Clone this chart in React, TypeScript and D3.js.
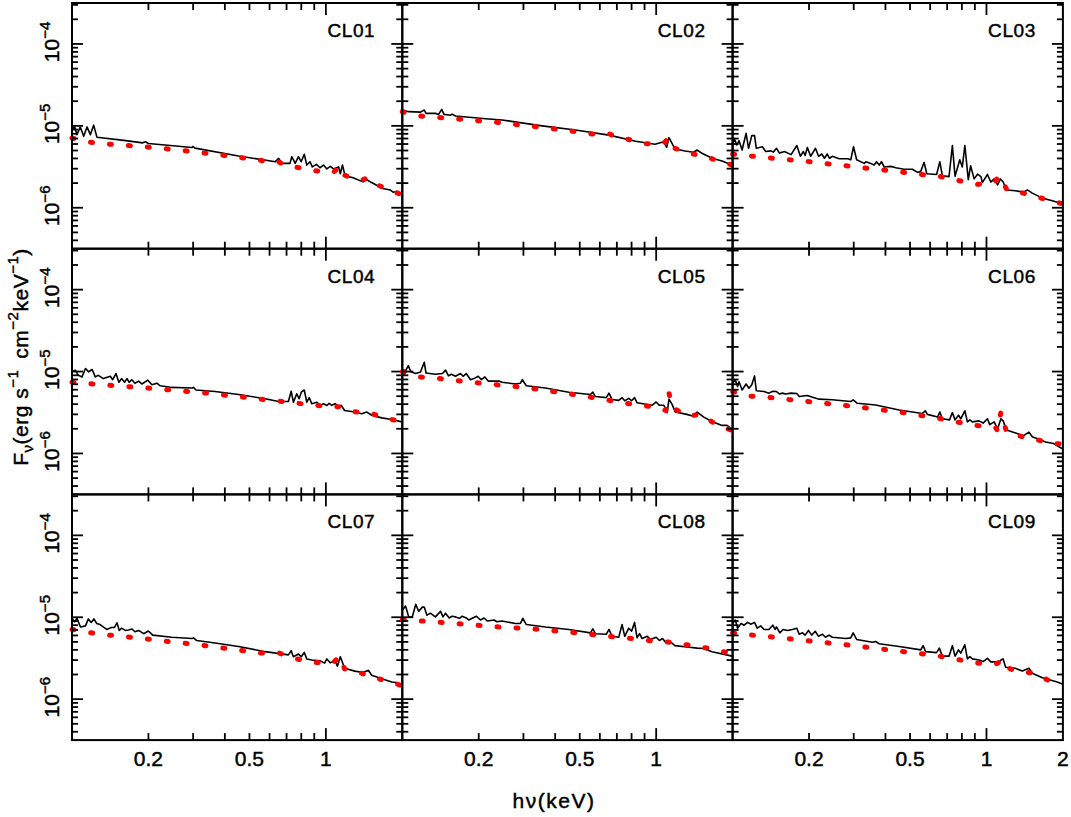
import React, { useEffect, useRef } from 'react';
import * as d3 from 'd3';

// panel names, read top-left to bottom-right
const panelNames = ['CL01', 'CL02', 'CL03', 'CL04', 'CL05', 'CL06', 'CL07', 'CL08', 'CL09'];

// [energy keV, flux in 1e-6 erg s^-1 cm^-2 keV^-1]
const cl01Data: [number, number][] = [
  [0.100, 9.35], [0.1025, 9.7], [0.1046, 7.8], [0.1078, 9.7], [0.1112, 7.45], [0.1146, 9.7], [0.1181, 7.8],
  [0.1217, 10.2], [0.1254, 7.25], [0.160, 6.65], [0.19, 6.2], [0.1945, 6.4], [0.2, 6.1], [0.297, 5.45],
  [0.30, 5.6], [0.305, 5.35], [0.453, 4.28], [0.632, 3.65], [0.652, 4.0], [0.670, 3.48], [0.722, 3.48],
  [0.734, 4.2], [0.757, 3.48], [0.780, 4.2], [0.799, 3.65], [0.822, 4.5], [0.841, 3.32], [0.866, 3.65],
  [0.884, 3.15], [0.918, 3.38], [0.948, 3.08], [0.979, 3.32], [1.009, 2.98], [1.040, 3.2], [1.072, 2.98],
  [1.123, 3.15], [1.14, 2.6], [1.163, 3.32], [1.19, 2.45], [1.28, 2.32], [1.40, 2.07], [1.45, 2.2],
  [1.515, 2.03], [1.59, 1.87], [1.66, 1.73], [1.79, 1.65], [1.84, 1.55], [1.90, 1.58], [1.99, 1.44],
];
const cl01Model: [number, number][] = [
  [0.100, 7.1], [0.118, 6.3], [0.137, 6.0], [0.1945, 5.55], [0.275, 5.0], [0.389, 4.4], [0.548, 3.82],
  [0.62, 3.52], [0.65, 3.65], [0.68, 3.38], [0.88, 2.85], [1.04, 2.72], [1.07, 2.7], [1.14, 3.25],
  [1.18, 2.52], [1.264, 2.28], [1.40, 2.2], [1.45, 2.3], [1.515, 2.03], [1.99, 1.44],
];

const cl02Data: [number, number][] = [
  [0.100, 15.6], [0.106, 14.9], [0.118, 14.7], [0.122, 15.6], [0.124, 14.2], [0.135, 14.2], [0.139, 13.8],
  [0.143, 15.9], [0.146, 13.8], [0.155, 13.5], [0.157, 13.9], [0.162, 13.2], [0.213, 12.2], [0.247, 11.8],
  [0.3555, 10.0], [0.481, 8.9], [0.652, 7.7], [0.83, 6.5], [0.99, 5.95], [1.07, 6.4], [1.10, 5.45],
  [1.123, 7.17], [1.163, 5.84], [1.19, 5.21], [1.30, 4.93], [1.40, 4.75], [1.45, 5.07], [1.515, 4.62],
  [1.66, 4.02], [1.816, 3.72], [1.99, 3.33],
];
const cl02Model: [number, number][] = [
  [0.100, 14.9], [0.118, 13.2], [0.1665, 12.1], [0.235, 11.05], [0.332, 9.8], [0.469, 8.6], [0.559, 7.95],
  [0.62, 7.7], [0.655, 7.95], [0.69, 7.4], [0.768, 6.9], [0.906, 6.05], [1.07, 6.1], [1.123, 7.17],
  [1.17, 5.4], [1.35, 4.62], [1.54, 4.3], [1.79, 3.65], [1.99, 3.33],
];

const cl03Data: [number, number][] = [
  [0.100, 5.84], [0.1015, 7.0], [0.104, 5.84], [0.106, 6.6], [0.109, 5.07], [0.113, 8.1], [0.1156, 5.32],
  [0.119, 7.6], [0.122, 7.6], [0.124, 5.32], [0.131, 5.55], [0.135, 4.87], [0.1415, 4.95], [0.1446, 4.78],
  [0.149, 5.32], [0.153, 4.65], [0.160, 4.87], [0.170, 4.45], [0.179, 5.75], [0.185, 4.25], [0.190, 4.87],
  [0.193, 4.35], [0.197, 5.45], [0.203, 4.25], [0.212, 5.32], [0.218, 4.25], [0.2245, 4.53], [0.230, 4.02],
  [0.236, 4.53], [0.241, 4.02], [0.247, 4.25], [0.263, 3.97], [0.284, 3.97], [0.292, 3.85], [0.2995, 5.55],
  [0.308, 3.85], [0.330, 3.48], [0.335, 3.65], [0.350, 3.48], [0.361, 3.32], [0.369, 3.65], [0.378, 3.32],
  [0.386, 3.65], [0.395, 3.15], [0.420, 3.2], [0.440, 3.08], [0.473, 2.95], [0.511, 2.95], [0.535, 2.7],
  [0.551, 2.78], [0.568, 3.58], [0.582, 2.6], [0.636, 2.55], [0.655, 3.65], [0.670, 2.46], [0.712, 2.4],
  [0.734, 5.75], [0.752, 2.43], [0.768, 3.03], [0.785, 3.85], [0.803, 3.15], [0.822, 5.75], [0.848, 2.2],
  [0.866, 3.25], [0.894, 2.25], [0.922, 2.57], [0.951, 2.4], [0.963, 2.03], [1.009, 2.55], [1.04, 2.06],
  [1.072, 2.25], [1.106, 1.9], [1.134, 2.25], [1.163, 2.06], [1.2, 1.65], [1.30, 1.61], [1.40, 1.55],
  [1.45, 1.65], [1.515, 1.51], [1.66, 1.31], [1.816, 1.22], [1.99, 1.12],
];
const cl03Model: [number, number][] = [
  [0.100, 4.53], [0.12, 4.25], [0.2, 3.65], [0.40, 2.87], [0.568, 2.52], [0.66, 2.4], [0.78, 2.14],
  [0.922, 1.93], [1.072, 2.03], [1.123, 2.46], [1.15, 2.2], [1.2, 1.68], [1.40, 1.51], [1.60, 1.34],
  [1.87, 1.18], [1.99, 1.12],
];

const cl04Data: [number, number][] = [
  [0.100, 9.9], [0.103, 10.4], [0.106, 9.0], [0.1095, 8.6], [0.113, 10.9], [0.1163, 9.9], [0.120, 10.6],
  [0.1235, 8.6], [0.127, 9.0], [0.133, 8.2], [0.1415, 8.75], [0.1446, 7.95], [0.149, 9.45], [0.153, 7.4],
  [0.157, 8.2], [0.161, 7.4], [0.1646, 8.2], [0.168, 7.4], [0.172, 7.95], [0.177, 7.2], [0.183, 7.65],
  [0.1885, 7.05], [0.199, 7.85], [0.2064, 6.9], [0.216, 7.2], [0.2225, 6.7], [0.247, 6.4], [0.297, 6.3],
  [0.301, 6.4], [0.308, 5.95], [0.366, 5.7], [0.453, 5.25], [0.576, 4.65], [0.652, 4.3], [0.712, 4.3],
  [0.73, 5.75], [0.745, 4.22], [0.768, 5.35], [0.785, 4.65], [0.80, 5.6], [0.822, 5.95], [0.841, 4.22],
  [0.86, 4.8], [0.88, 4.05], [0.922, 4.22], [0.951, 3.87], [0.979, 4.05], [1.009, 3.85], [1.03, 4.1],
  [1.054, 3.87], [1.088, 4.05], [1.123, 3.72], [1.15, 3.87], [1.185, 3.35], [1.30, 3.2], [1.384, 3.05],
  [1.45, 3.2], [1.515, 2.93], [1.66, 2.72], [1.816, 2.6], [1.99, 2.43],
];
const cl04Model: [number, number][] = [
  [0.100, 7.4], [0.121, 7.05], [0.203, 6.25], [0.34, 5.45], [0.574, 4.55], [0.68, 4.3], [0.803, 4.05],
  [0.96, 3.8], [1.123, 3.72], [1.28, 3.25], [1.515, 3.05], [1.816, 2.6], [1.99, 2.43],
];

const cl05Data: [number, number][] = [
  [0.100, 10.6], [0.103, 10.2], [0.1056, 11.8], [0.108, 9.95], [0.113, 9.45], [0.118, 9.9], [0.122, 13.0],
  [0.124, 9.6], [0.135, 9.25], [0.144, 9.45], [0.148, 10.4], [0.152, 8.85], [0.156, 9.25], [0.162, 8.75],
  [0.1695, 9.45], [0.1735, 8.75], [0.1786, 9.45], [0.1857, 7.95], [0.1915, 8.2], [0.199, 8.75],
  [0.205, 7.95], [0.2115, 8.6], [0.218, 7.65], [0.240, 7.65], [0.247, 7.4], [0.279, 7.05], [0.292, 7.2],
  [0.297, 7.95], [0.308, 6.7], [0.366, 6.3], [0.453, 5.6], [0.551, 5.25], [0.563, 5.6], [0.576, 4.95],
  [0.636, 4.8], [0.652, 5.45], [0.670, 4.55], [0.712, 4.45], [0.734, 4.8], [0.752, 4.4], [0.78, 4.7],
  [0.80, 4.4], [0.822, 4.8], [0.841, 4.15], [0.963, 3.87], [1.0, 4.25], [1.03, 3.87], [1.072, 3.87],
  [1.106, 3.2], [1.123, 4.6], [1.154, 4.0], [1.19, 3.2], [1.32, 3.0], [1.40, 2.85], [1.45, 3.2],
  [1.54, 2.78], [1.66, 2.45], [1.816, 2.2], [1.9, 2.2], [1.99, 2.0],
];
const cl05Model: [number, number][] = [
  [0.100, 9.95], [0.116, 8.6], [0.133, 8.4], [0.157, 7.85], [0.1885, 7.4], [0.315, 6.3], [0.535, 4.95],
  [0.72, 4.22], [0.853, 3.87], [0.99, 3.72], [1.09, 3.35], [1.123, 5.45], [1.163, 3.6], [1.34, 2.85],
  [1.49, 3.0], [1.69, 2.35], [1.99, 1.9],
];

const cl06Data: [number, number][] = [
  [0.100, 7.2], [0.1025, 7.9], [0.1046, 6.55], [0.106, 7.5], [0.109, 5.95], [0.113, 7.05], [0.116, 6.25],
  [0.119, 6.9], [0.122, 8.85], [0.124, 5.84], [0.133, 5.7], [0.139, 5.45], [0.144, 5.75], [0.149, 5.7],
  [0.153, 5.32], [0.157, 5.45], [0.162, 5.32], [0.1695, 5.45], [0.179, 5.4], [0.183, 4.95], [0.197, 5.1],
  [0.2064, 4.87], [0.2195, 4.6], [0.247, 4.52], [0.292, 4.3], [0.2985, 4.52], [0.31, 4.1], [0.366, 3.9],
  [0.453, 3.4], [0.559, 3.07], [0.574, 3.32], [0.585, 3.0], [0.642, 2.78], [0.655, 3.2], [0.67, 2.65],
  [0.715, 2.57], [0.734, 3.15], [0.752, 2.57], [0.776, 2.93], [0.792, 2.65], [0.822, 3.32], [0.841, 2.43],
  [0.86, 2.57], [0.88, 2.43], [0.935, 2.5], [0.97, 2.35], [1.009, 2.65], [1.03, 2.25], [1.072, 2.43],
  [1.106, 2.0], [1.14, 2.65], [1.163, 2.5], [1.2, 1.93], [1.32, 1.75], [1.4, 1.65], [1.47, 1.82],
  [1.515, 1.6], [1.71, 1.38], [1.84, 1.32], [1.99, 1.14],
];
const cl06Model: [number, number][] = [
  [0.100, 5.7], [0.118, 5.0], [0.135, 4.87], [0.16, 4.6], [0.271, 3.9], [0.453, 3.2], [0.642, 2.7],
  [0.866, 2.25], [1.088, 2.05], [1.106, 1.9], [1.14, 3.2], [1.2, 1.82], [1.384, 1.6], [1.56, 1.5],
  [1.79, 1.3], [1.99, 1.32],
];

const cl07Data: [number, number][] = [
  [0.100, 9.7], [0.1025, 8.8], [0.1046, 9.7], [0.108, 7.6], [0.113, 7.85], [0.116, 9.55], [0.119, 8.65],
  [0.122, 9.55], [0.125, 8.4], [0.129, 8.15], [0.137, 7.1], [0.143, 7.5], [0.147, 7.5], [0.1504, 8.55],
  [0.1535, 6.9], [0.157, 7.35], [0.162, 6.9], [0.167, 7.0], [0.172, 7.2], [0.177, 6.65], [0.183, 6.9],
  [0.1915, 6.3], [0.2, 6.8], [0.208, 6.05], [0.247, 5.7], [0.297, 5.5], [0.301, 5.6], [0.31, 5.2],
  [0.366, 4.85], [0.453, 4.4], [0.576, 3.8], [0.712, 3.47], [0.73, 3.9], [0.745, 3.3], [0.78, 3.55],
  [0.80, 3.3], [0.822, 3.72], [0.841, 3.1], [0.88, 3.0], [0.951, 2.93], [0.988, 2.75], [1.009, 3.1],
  [1.04, 2.78], [1.088, 2.93], [1.11, 2.52], [1.14, 3.3], [1.185, 2.38], [1.30, 2.2], [1.40, 2.12],
  [1.47, 2.25], [1.515, 1.96], [1.66, 1.78], [1.816, 1.62], [1.93, 1.58], [1.99, 1.45],
];
const cl07Model: [number, number][] = [
  [0.100, 7.1], [0.119, 6.45], [0.1403, 6.05], [0.167, 5.75], [0.335, 4.5], [0.559, 3.65], [0.655, 3.65],
  [0.768, 3.1], [0.906, 2.8], [1.072, 2.8], [1.13, 3.35], [1.185, 2.35], [1.384, 2.07], [1.56, 1.82],
  [1.84, 1.6], [1.99, 1.45],
];

const cl08Data: [number, number][] = [
  [0.100, 12.2], [0.103, 13.7], [0.106, 10.1], [0.1095, 10.1], [0.113, 14.4], [0.116, 11.8], [0.120, 13.3],
  [0.122, 13.3], [0.125, 10.6], [0.129, 11.2], [0.135, 10.1], [0.1415, 11.8], [0.1446, 10.1], [0.148, 11.2],
  [0.153, 9.8], [0.157, 10.3], [0.162, 10.1], [0.168, 9.7], [0.172, 10.3], [0.1786, 9.8], [0.183, 9.25],
  [0.1885, 9.7], [0.196, 10.3], [0.203, 9.25], [0.21, 9.8], [0.216, 9.0], [0.23, 9.25], [0.236, 8.8],
  [0.247, 9.0], [0.279, 8.4], [0.292, 8.4], [0.2985, 9.7], [0.308, 8.15], [0.366, 7.6], [0.453, 7.1],
  [0.551, 6.45], [0.563, 7.2], [0.576, 6.3], [0.636, 6.2], [0.652, 7.1], [0.67, 5.85], [0.712, 5.7],
  [0.734, 8.15], [0.752, 5.85], [0.78, 7.35], [0.80, 6.75], [0.822, 8.65], [0.841, 5.6], [0.86, 6.3],
  [0.88, 5.5], [0.922, 5.85], [0.951, 5.35], [1.0, 5.7], [1.03, 5.2], [1.06, 5.5], [1.088, 4.95],
  [1.123, 5.2], [1.185, 4.5], [1.35, 4.3], [1.45, 4.2], [1.54, 4.15], [1.66, 3.8], [1.99, 3.35],
];
const cl08Model: [number, number][] = [
  [0.100, 9.4], [0.12, 9.0], [0.143, 8.65], [0.24, 7.6], [0.34, 7.15], [0.481, 6.45], [0.68, 5.75],
  [0.803, 5.5], [0.96, 5.15], [1.14, 4.95], [1.35, 4.55], [1.59, 4.2], [1.87, 3.75], [1.99, 3.4],
];

const cl09Data: [number, number][] = [
  [0.100, 8.4], [0.1025, 9.25], [0.1046, 7.35], [0.108, 8.4], [0.111, 8.0], [0.1146, 8.65], [0.118, 8.2],
  [0.122, 8.65], [0.125, 7.35], [0.129, 7.85], [0.133, 7.1], [0.139, 7.1], [0.144, 8.0], [0.147, 7.1],
  [0.149, 7.6], [0.1535, 6.45], [0.158, 7.1], [0.1646, 6.9], [0.172, 7.1], [0.179, 7.35], [0.183, 6.2],
  [0.1885, 6.45], [0.193, 6.05], [0.199, 6.9], [0.205, 6.05], [0.2115, 6.75], [0.218, 5.85], [0.226, 6.2],
  [0.232, 5.7], [0.24, 6.05], [0.247, 5.7], [0.279, 5.5], [0.292, 5.6], [0.2985, 6.45], [0.308, 5.35],
  [0.3555, 4.95], [0.366, 5.05], [0.378, 4.75], [0.453, 4.4], [0.551, 4.0], [0.563, 4.5], [0.576, 3.8],
  [0.636, 3.7], [0.652, 4.2], [0.67, 3.35], [0.712, 3.35], [0.734, 4.5], [0.752, 3.35], [0.776, 4.0],
  [0.792, 3.65], [0.822, 4.6], [0.841, 3.1], [0.86, 3.3], [0.88, 3.1], [0.935, 3.0], [0.97, 2.88],
  [1.009, 3.15], [1.04, 2.85], [1.088, 2.85], [1.106, 2.66], [1.14, 3.0], [1.163, 3.1], [1.19, 2.45],
  [1.30, 2.38], [1.384, 2.2], [1.47, 2.38], [1.515, 2.07], [1.66, 1.82], [1.9, 1.62], [1.99, 1.53],
];
const cl09Model: [number, number][] = [
  [0.100, 6.45], [0.12, 6.05], [0.143, 5.75], [0.284, 4.6], [0.568, 3.55], [0.67, 3.3], [0.792, 3.0],
  [0.935, 2.75], [1.088, 2.68], [1.163, 3.0], [1.2, 2.45], [1.30, 2.22], [1.54, 2.07], [1.79, 1.65],
  [1.99, 1.53],
];

const dataSeries = [cl01Data, cl02Data, cl03Data, cl04Data, cl05Data, cl06Data, cl07Data, cl08Data, cl09Data];
const modelSeries = [cl01Model, cl02Model, cl03Model, cl04Model, cl05Model, cl06Model, cl07Model, cl08Model, cl09Model];

const xTickLabels = [0.2, 0.5, 1, 2];
const yTickExponents = [-6, -5, -4];
const fluxUnit = 1e-6;

const WIDTH = 1071;
const HEIGHT = 817;
const left = 72;
const top = 3;
const pw = 330.3;
const ph = 245.7;
const font = '"Liberation Sans", Arial, Helvetica, sans-serif';

function App() {
  const ref = useRef<SVGSVGElement>(null);

  useEffect(() => {
    const svg = d3.select(ref.current);
    svg.selectAll('*').remove();

    const x = d3.scaleLog().domain([0.1, 2]).range([0, pw]);
    const y = d3.scaleLog().domain([Math.pow(10, -6.5), Math.pow(10, -3.5)]).range([ph, 0]);

    const line = d3.line<[number, number]>()
      .x(d => x(d[0]))
      .y(d => y(d[1] * fluxUnit));

    const isDecade = (v: number) => Math.abs(Math.log10(v) - Math.round(Math.log10(v))) < 1e-6;
    const xTicks = x.ticks().filter(v => v > 0.1001 && v < 1.999);
    const yTicks = y.ticks();

    // heavier text, closer to the plotting package's stroked font
    const label = (sel: any, size: number) =>
      sel.attr('font-family', font)
        .attr('font-size', size)
        .attr('fill', '#000')
        .attr('stroke', '#000')
        .attr('stroke-width', 0.45);

    panelNames.forEach((name, i) => {
      const col = i % 3;
      const row = Math.floor(i / 3);
      const g = svg.append('g')
        .attr('transform', `translate(${left + col * pw}, ${top + row * ph})`);

      g.append('path')
        .datum(dataSeries[i])
        .attr('d', line)
        .attr('fill', 'none')
        .attr('stroke', '#000')
        .attr('stroke-width', 1.6)
        .attr('stroke-linejoin', 'round');

      g.append('path')
        .datum(modelSeries[i])
        .attr('d', line)
        .attr('fill', 'none')
        .attr('stroke', '#ff0000')
        .attr('stroke-width', 5)
        .attr('stroke-linecap', 'round')
        .attr('stroke-dasharray', '2 17');

      // ticks on all four sides, pointing inward
      const ticks = g.append('g').attr('stroke', '#000').attr('stroke-width', 1.8);
      xTicks.forEach(v => {
        const len = isDecade(v) ? 12 : 7;
        ticks.append('line').attr('x1', x(v)).attr('x2', x(v)).attr('y1', ph).attr('y2', ph - len);
        ticks.append('line').attr('x1', x(v)).attr('x2', x(v)).attr('y1', 0).attr('y2', len);
      });
      yTicks.forEach(v => {
        const len = isDecade(v) ? 11 : 6;
        ticks.append('line').attr('y1', y(v)).attr('y2', y(v)).attr('x1', 0).attr('x2', len);
        ticks.append('line').attr('y1', y(v)).attr('y2', y(v)).attr('x1', pw).attr('x2', pw - len);
      });

      g.append('rect')
        .attr('width', pw)
        .attr('height', ph)
        .attr('fill', 'none')
        .attr('stroke', '#000')
        .attr('stroke-width', 2);

      label(g.append('text'), 19)
        .attr('x', pw - 27)
        .attr('y', 34)
        .attr('text-anchor', 'end')
        .attr('letter-spacing', 0.6)
        .text(name);

      if (col === 0) {
        yTickExponents.forEach(e => {
          const t = label(g.append('text'), 21)
            .attr('transform', `translate(-13, ${y(Math.pow(10, e)) - 2}) rotate(-90)`)
            .attr('text-anchor', 'middle');
          t.append('tspan').text('10');
          t.append('tspan').attr('dy', -9).attr('font-size', 15).text(`\u2212${-e}`);
        });
      }

      if (row === 2) {
        xTickLabels
          .filter(v => col === 2 || v < 2)
          .forEach(v => {
            label(g.append('text'), 21)
              .attr('x', x(v))
              .attr('y', ph + 26)
              .attr('text-anchor', 'middle')
              .text(String(v));
          });
      }
    });

    // axis titles
    const yt = label(svg.append('text'), 21)
      .attr('transform', `translate(28, 357) rotate(-90)`)
      .attr('text-anchor', 'middle')
      .attr('letter-spacing', 0.5);
    yt.append('tspan').text('F');
    yt.append('tspan').attr('dy', 5).attr('font-size', 15).text('\u03bd');
    yt.append('tspan').attr('dy', -5).text('(erg s');
    yt.append('tspan').attr('dy', -10).attr('font-size', 15).text('\u22121');
    yt.append('tspan').attr('dy', 10).text('\u2002cm');
    yt.append('tspan').attr('dy', -10).attr('font-size', 15).text('\u22122');
    yt.append('tspan').attr('dy', 10).text('keV');
    yt.append('tspan').attr('dy', -10).attr('font-size', 15).text('\u22121');
    yt.append('tspan').attr('dy', 10).text(')');

    label(svg.append('text'), 21)
      .attr('x', 554)
      .attr('y', 808)
      .attr('text-anchor', 'middle')
      .attr('letter-spacing', 1.5)
      .text('h\u03bd(keV)');
  }, []);

  return (
    <svg
      ref={ref}
      width={WIDTH}
      height={HEIGHT}
      style={{ position: 'absolute', left: 0, top: 0, background: '#fff' }}
    />
  );
}

export default App;
